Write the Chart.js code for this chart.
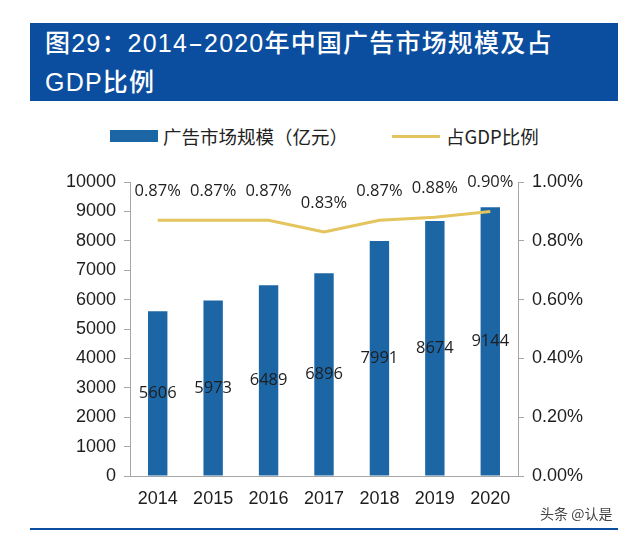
<!DOCTYPE html>
<html>
<head>
<meta charset="utf-8">
<script src="https://cdn.jsdelivr.net/npm/chart.js@4.4.1/dist/chart.umd.min.js"></script>
<style>
  html, body { margin: 0; padding: 0; background: #fff; }
  body { width: 640px; height: 534px; position: relative; overflow: hidden; }
  #banner { position: absolute; left: 30px; top: 23px; width: 588px; height: 78px; background: #0b4d9e; }
  #banner div { position: absolute; left: 15px; color: #fff; font-family: "Liberation Sans", "Noto Sans CJK SC", sans-serif; font-size: 25px; font-weight: 500; white-space: nowrap; line-height: 30px; letter-spacing: 1.2px; }
  #t1 { top: 5px; }
  #t2 { top: 44px; }
  .dash { display: inline-block; width: 15px; text-align: center; letter-spacing: 0; transform: scaleX(1.8); margin-right: 1px; }
  #legend { position: absolute; top: 123px; left: 0; width: 640px; height: 26px; font-family: "Noto Sans CJK SC", "Liberation Sans", sans-serif; font-size: 18.5px; color: #222; }
  .lg { position: absolute; top: 0; line-height: 26px; white-space: nowrap; }
  #lgBox { position: absolute; left: 110px; top: 7px; width: 48px; height: 12px; background: #1c66a5; }
  #lgLine { position: absolute; left: 392px; top: 12px; width: 48px; height: 3px; background: #e4c45c; }
  #cv { position: absolute; left: 0; top: 0; }
  #wm { position: absolute; left: 540px; top: 503px; font-family: "Noto Sans CJK SC", sans-serif; font-size: 14px; color: #444; white-space: nowrap; }
  #bl { position: absolute; left: 30px; top: 528px; width: 588px; height: 2px; background: #0b4d9e; }
</style>
</head>
<body>
<div id="banner"><div id="t1">图29：2014<span class="dash">-</span>2020年中国广告市场规模及占</div><div id="t2">GDP比例</div></div>
<div id="legend">
  <div id="lgBox"></div><div class="lg" style="left:163px">广告市场规模（亿元）</div>
  <div id="lgLine"></div><div class="lg" style="left:446px">占GDP比例</div>
</div>
<canvas id="cv" width="640" height="534"></canvas>
<div id="wm">头条 @认是</div>
<div id="bl"></div>
<script>
const years = ["2014", "2015", "2016", "2017", "2018", "2019", "2020"];
const adMarket = [5606, 5973, 6489, 6896, 7991, 8674, 9144];
const gdpShare = [0.87, 0.87, 0.87, 0.83, 0.87, 0.88, 0.90];
const leftTicks = [0, 1000, 2000, 3000, 4000, 5000, 6000, 7000, 8000, 9000, 10000];
const rightTicks = [0, 0.2, 0.4, 0.6, 0.8, 1.0];

const AXIS = "#a6a6a6";
const TXT = "#1e1e1e";

const labelPlugin = {
  id: "valueLabels",
  afterDatasetsDraw(chart) {
    const ctx = chart.ctx;
    ctx.save();
    ctx.fillStyle = TXT;
    ctx.font = '16.5px "Open Sans", sans-serif';
    ctx.textAlign = "center";
    ctx.textBaseline = "middle";
    const bars = chart.getDatasetMeta(0).data;
    bars.forEach((el, i) => {
      ctx.fillText(String(adMarket[i]), el.x, (el.y + el.base) / 2);
    });
    const pts = chart.getDatasetMeta(1).data;
    pts.forEach((el, i) => {
      ctx.fillText(gdpShare[i].toFixed(2) + "%", el.x, el.y - 29);
    });
    ctx.restore();
  }
};

new Chart(document.getElementById("cv"), {
  data: {
    labels: years,
    datasets: [
      {
        type: "bar",
        data: adMarket,
        backgroundColor: "#1c66a5",
        yAxisID: "y",
        order: 2,
        barPercentage: 0.35,
        categoryPercentage: 1.0
      },
      {
        type: "line",
        data: gdpShare,
        borderColor: "#e4c45c",
        borderWidth: 3,
        pointRadius: 0,
        tension: 0,
        yAxisID: "y1",
        order: 1
      }
    ]
  },
  options: {
    responsive: false,
    animation: false,
    events: [],
    layout: { padding: { left: 0, right: 0, top: 182, bottom: 28 } },
    plugins: { legend: { display: false }, tooltip: { enabled: false } },
    scales: {
      x: {
        grid: { display: false, drawTicks: false },
        border: { display: true, color: AXIS, width: 1 },
        ticks: { color: TXT, padding: 12, font: { family: '"Liberation Sans", Arial, sans-serif', size: 18 } },
        afterFit(s) { s.height = 30; }
      },
      y: {
        position: "left",
        min: 0, max: 10000,
        afterBuildTicks(s) { s.ticks = leftTicks.map(v => ({ value: v })); },
        grid: { drawOnChartArea: false, drawTicks: true, tickLength: 6, color: AXIS },
        border: { display: true, color: AXIS, width: 1 },
        ticks: {
          color: TXT, padding: 8,
          font: { family: '"Liberation Sans", Arial, sans-serif', size: 18 },
          callback: v => String(v)
        },
        afterFit(s) { s.width = 130; }
      },
      y1: {
        position: "right",
        min: 0, max: 1,
        afterBuildTicks(s) { s.ticks = rightTicks.map(v => ({ value: v })); },
        grid: { drawOnChartArea: false, drawTicks: true, tickLength: 6, color: AXIS },
        border: { display: true, color: AXIS, width: 1 },
        ticks: {
          color: TXT, padding: 8,
          font: { family: '"Liberation Sans", Arial, sans-serif', size: 18 },
          callback: v => Number(v).toFixed(2) + "%"
        },
        afterFit(s) { s.width = 122; }
      }
    }
  },
  plugins: [labelPlugin]
});
</script>
</body>
</html>
